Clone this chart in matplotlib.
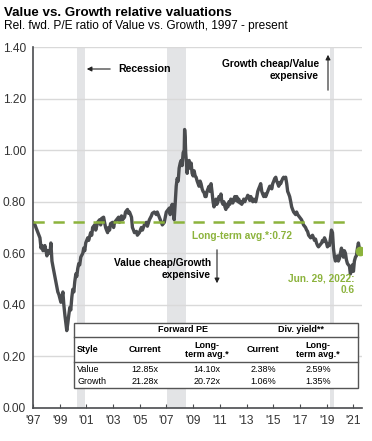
import numpy as np
import matplotlib
matplotlib.use("Agg")
import matplotlib.pyplot as plt
from matplotlib.patches import Rectangle

plt.rcParams["font.family"] = ["Liberation Sans", "DejaVu Sans"]

# relative fwd P/E (value / growth), x in chart years
years = [
    1997.00, 1997.15, 1997.22, 1997.37, 1997.52, 1997.60, 1997.67, 1997.75, 1997.89, 1997.97,
    1998.04, 1998.12, 1998.27, 1998.34, 1998.42, 1998.49, 1998.64, 1998.71, 1998.86, 1998.94,
    1999.09, 1999.16, 1999.24, 1999.31, 1999.39, 1999.46, 1999.50, 1999.53, 1999.61, 1999.68,
    1999.76, 1999.83, 1999.91, 1999.98, 2000.06, 2000.13, 2000.21, 2000.28, 2000.35, 2000.43,
    2000.50, 2000.58, 2000.73, 2000.80, 2000.88, 2000.95, 2001.10, 2001.17, 2001.32, 2001.40,
    2001.47, 2001.62, 2001.70, 2001.84, 2001.99, 2002.07, 2002.14, 2002.29, 2002.36, 2002.44,
    2002.51, 2002.59, 2002.66, 2002.74, 2002.81, 2002.96, 2003.04, 2003.11, 2003.26, 2003.41,
    2003.48, 2003.63, 2003.71, 2003.86, 2003.93, 2004.08, 2004.15, 2004.23, 2004.38, 2004.45,
    2004.53, 2004.60, 2004.75, 2004.82, 2004.97, 2005.12, 2005.20, 2005.34, 2005.49, 2005.57,
    2005.72, 2005.87, 2005.94, 2006.09, 2006.24, 2006.31, 2006.46, 2006.61, 2006.69, 2006.84,
    2006.91, 2006.99, 2007.14, 2007.21, 2007.28, 2007.36, 2007.43, 2007.51, 2007.58, 2007.66,
    2007.73, 2007.80, 2007.88, 2007.95, 2008.03, 2008.10, 2008.17, 2008.25, 2008.33, 2008.36,
    2008.40, 2008.44, 2008.47, 2008.55, 2008.62, 2008.70, 2008.77, 2008.85, 2008.92, 2009.00,
    2009.07, 2009.15, 2009.22, 2009.30, 2009.37, 2009.44, 2009.52, 2009.59, 2009.67, 2009.74,
    2009.82, 2009.89, 2009.97, 2010.04, 2010.11, 2010.19, 2010.26, 2010.34, 2010.41, 2010.49,
    2010.56, 2010.63, 2010.71, 2010.78, 2010.86, 2010.93, 2011.01, 2011.08, 2011.15, 2011.23,
    2011.30, 2011.38, 2011.45, 2011.53, 2011.60, 2011.68, 2011.75, 2011.82, 2011.90, 2011.97,
    2012.05, 2012.12, 2012.20, 2012.27, 2012.35, 2012.42, 2012.50, 2012.57, 2012.64, 2012.72,
    2012.79, 2012.87, 2012.94, 2013.02, 2013.09, 2013.17, 2013.24, 2013.32, 2013.39, 2013.47,
    2013.54, 2013.62, 2013.69, 2013.77, 2013.84, 2013.91, 2013.99, 2014.06, 2014.14, 2014.21,
    2014.29, 2014.36, 2014.44, 2014.51, 2014.59, 2014.66, 2014.74, 2014.81, 2014.89, 2014.96,
    2015.04, 2015.11, 2015.19, 2015.26, 2015.34, 2015.41, 2015.49, 2015.56, 2015.63, 2015.71,
    2015.78, 2015.86, 2015.93, 2016.01, 2016.08, 2016.16, 2016.23, 2016.31, 2016.38, 2016.45,
    2016.53, 2016.60, 2016.68, 2016.75, 2016.83, 2016.90, 2016.98, 2017.05, 2017.12, 2017.20,
    2017.27, 2017.35, 2017.42, 2017.50, 2017.57, 2017.65, 2017.72, 2017.80, 2017.87, 2017.94,
    2018.02, 2018.09, 2018.17, 2018.24, 2018.32, 2018.39, 2018.47, 2018.54, 2018.62, 2018.69,
    2018.77, 2018.84, 2018.92, 2018.99, 2019.06, 2019.14, 2019.21, 2019.29, 2019.36, 2019.44,
    2019.51, 2019.59, 2019.66, 2019.74, 2019.81, 2019.88, 2019.96, 2020.03, 2020.11, 2020.18,
    2020.26, 2020.33, 2020.41, 2020.48, 2020.56, 2020.63, 2020.71, 2020.78, 2020.86, 2020.93,
    2021.01, 2021.08, 2021.16, 2021.23, 2021.31, 2021.38, 2021.45, 2021.53,
]
rel_pe = [
    0.72, 0.71, 0.70, 0.68, 0.66, 0.62, 0.63, 0.61, 0.63, 0.61,
    0.59, 0.61, 0.60, 0.64, 0.57, 0.55, 0.51, 0.49, 0.45, 0.44,
    0.41, 0.43, 0.45, 0.40, 0.36, 0.33, 0.31, 0.30, 0.33, 0.36,
    0.39, 0.38, 0.43, 0.46, 0.45, 0.49, 0.52, 0.51, 0.54, 0.56,
    0.555, 0.585, 0.60, 0.62, 0.61, 0.64, 0.66, 0.65, 0.68, 0.67,
    0.70, 0.71, 0.69, 0.72, 0.73, 0.71, 0.735, 0.74, 0.72, 0.70,
    0.69, 0.68, 0.70, 0.69, 0.715, 0.72, 0.70, 0.72, 0.73, 0.74,
    0.72, 0.745, 0.73, 0.74, 0.76, 0.77, 0.755, 0.76, 0.74, 0.70,
    0.69, 0.68, 0.685, 0.67, 0.68, 0.70, 0.69, 0.71, 0.72, 0.705,
    0.73, 0.745, 0.755, 0.76, 0.75, 0.76, 0.74, 0.72, 0.71, 0.72,
    0.74, 0.76, 0.77, 0.775, 0.75, 0.78, 0.79, 0.76, 0.73, 0.80,
    0.86, 0.89, 0.88, 0.93, 0.95, 0.96, 0.94, 0.99, 1.00, 1.08,
    1.05, 0.99, 0.97, 0.91, 0.95, 0.96, 0.93, 0.95, 0.91, 0.90,
    0.92, 0.90, 0.895, 0.88, 0.87, 0.86, 0.88, 0.87, 0.85, 0.84,
    0.835, 0.82, 0.82, 0.84, 0.85, 0.86, 0.84, 0.87, 0.84, 0.80,
    0.78, 0.79, 0.81, 0.79, 0.80, 0.82, 0.81, 0.83, 0.80, 0.79,
    0.80, 0.78, 0.77, 0.79, 0.78, 0.80, 0.79, 0.81, 0.805, 0.795,
    0.81, 0.82, 0.805, 0.82, 0.80, 0.81, 0.795, 0.80, 0.79, 0.80,
    0.81, 0.80, 0.81, 0.815, 0.825, 0.82, 0.805, 0.82, 0.81, 0.80,
    0.81, 0.805, 0.80, 0.82, 0.84, 0.85, 0.86, 0.87, 0.84, 0.83,
    0.82, 0.83, 0.82, 0.83, 0.84, 0.85, 0.86, 0.86, 0.85, 0.87,
    0.88, 0.89, 0.895, 0.88, 0.87, 0.86, 0.875, 0.87, 0.88, 0.89,
    0.895, 0.89, 0.895, 0.87, 0.84, 0.83, 0.82, 0.80, 0.78, 0.77,
    0.76, 0.755, 0.75, 0.76, 0.75, 0.745, 0.74, 0.735, 0.73, 0.72,
    0.71, 0.705, 0.70, 0.69, 0.685, 0.67, 0.665, 0.66, 0.665, 0.67,
    0.66, 0.65, 0.655, 0.64, 0.63, 0.625, 0.63, 0.635, 0.64, 0.65,
    0.645, 0.66, 0.65, 0.64, 0.625, 0.635, 0.63, 0.66, 0.69, 0.68,
    0.62, 0.585, 0.57, 0.58, 0.59, 0.57, 0.58, 0.60, 0.62, 0.60,
    0.585, 0.61, 0.60, 0.575, 0.56, 0.555, 0.55, 0.52, 0.535, 0.555,
    0.53, 0.57, 0.585, 0.59, 0.62, 0.64, 0.62, 0.605,
]
long_term_avg = 0.72
last_value = 0.61
recessions = [(2000.28, 2000.88), (2007.06, 2008.48), (2019.28, 2019.58)]
tick_years = list(range(1997, 2022, 2))
tick_labels = ["'%02d" % (y % 100) for y in tick_years]

table_cols = ["Style", "Current", "Long-\nterm avg.*", "Current", "Long-\nterm avg.*"]
table_rows = [
    ["Value", "12.85x", "14.10x", "2.38%", "2.59%"],
    ["Growth", "21.28x", "20.72x", "1.06%", "1.35%"],
]

W, H = 372, 441
fig = plt.figure(figsize=(W / 100, H / 100), dpi=100)

def fx(px):
    return px / W

def fy(py):
    return 1 - py / H

ax = fig.add_axes([fx(33), fy(408), fx(362) - fx(33), fy(47) - fy(408)])

green = "#8cb33c"
dark = "#4a4c4f"

for a, b in recessions:
    ax.axvspan(a, b, color="#e3e4e6", lw=0, zorder=0)
for v in np.arange(0.2, 1.41, 0.2):
    ax.axhline(v, color="#d9d9d9", lw=1.0, zorder=0.5)

ax.plot(years, rel_pe, color=dark, lw=2.4, zorder=3, solid_joinstyle="round")
ax.plot([years[0], 2020.7], [long_term_avg, long_term_avg], color=green,
        lw=1.8, ls=(0, (4.5, 3.5)), zorder=4)
ax.plot(years[-1], last_value, "o", color=green, ms=6, zorder=5)

ax.set_xlim(1997, 2021.65)
ax.set_ylim(0, 1.4)
ax.set_yticks(np.arange(0, 1.41, 0.2))
ax.set_yticklabels([f"{v:.2f}" for v in np.arange(0, 1.41, 0.2)], fontsize=8.6, color="#333333")
ax.set_xticks(tick_years)
ax.set_xticklabels(tick_labels, fontsize=8.6, color="#333333")
ax.tick_params(axis="y", length=0, pad=5)
ax.tick_params(axis="x", length=3, direction="in", color=dark, pad=5)
for s in ["top", "right"]:
    ax.spines[s].set_visible(False)
ax.spines["left"].set_color(dark)
ax.spines["bottom"].set_color(dark)
ax.spines["left"].set_linewidth(1.2)
ax.spines["bottom"].set_linewidth(1.2)

# titles
fig.text(fx(4), fy(13), "Value vs. Growth relative valuations", fontsize=9.6,
         fontweight="bold", va="center", ha="left")
fig.text(fx(4), fy(26), "Rel. fwd. P/E ratio of Value vs. Growth, 1997 - present",
         fontsize=8.6, va="center", ha="left")

# annotations
fig.text(fx(118), fy(69), "Recession", fontsize=7.6, fontweight="bold", va="center")
ax.annotate("", xy=(fx(84), fy(69)), xytext=(fx(113), fy(69)), xycoords="figure fraction",
            textcoords="figure fraction",
            arrowprops=dict(arrowstyle="-|>", color="#222222", lw=0.8, mutation_scale=7))
fig.text(fx(319), fy(70), "Growth cheap/Value\nexpensive", fontsize=7.3, fontweight="bold",
         va="center", ha="right", linespacing=1.15)
ax.annotate("", xy=(fx(328), fy(52)), xytext=(fx(328), fy(93)), xycoords="figure fraction",
            textcoords="figure fraction",
            arrowprops=dict(arrowstyle="-|>", color="#222222", lw=0.8, mutation_scale=7))
fig.text(fx(211), fy(269), "Value cheap/Growth\nexpensive", fontsize=7.3, fontweight="bold",
         va="center", ha="right", linespacing=1.15)
ax.annotate("", xy=(fx(217), fy(286)), xytext=(fx(217), fy(247)), xycoords="figure fraction",
            textcoords="figure fraction",
            arrowprops=dict(arrowstyle="-|>", color="#222222", lw=0.8, mutation_scale=7))
fig.text(fx(192), fy(236), f"Long-term avg.*:{long_term_avg}", fontsize=7.3,
         fontweight="bold", color=green, va="center", ha="left")
fig.text(fx(355), fy(284), "Jun. 29, 2022:\n0.6", fontsize=7.3, fontweight="bold",
         color=green, va="center", ha="right", linespacing=1.2)

# table
x0, x1, y0, y1 = 74, 358, 323, 388
fig.patches.append(Rectangle((fx(x0), fy(y1)), fx(x1) - fx(x0), fy(y0) - fy(y1),
                             transform=fig.transFigure, facecolor="white",
                             edgecolor="#555555", lw=1.0, zorder=10))
for ly in [337, 362]:
    fig.add_artist(plt.Line2D([fx(x0), fx(x1)], [fy(ly), fy(ly)], transform=fig.transFigure,
                              color="#555555", lw=1.0, zorder=11))
tfs = 6.5
fig.text(fx(183), fy(330), "Forward PE", fontsize=tfs, fontweight="bold", ha="center",
         va="center", zorder=12)
fig.text(fx(301), fy(330), "Div. yield**", fontsize=tfs, fontweight="bold", ha="center",
         va="center", zorder=12)
col_x = [77, 145, 207, 263, 318]
for i, c in enumerate(table_cols):
    fig.text(fx(col_x[i]), fy(350), c, fontsize=tfs, fontweight="bold",
             ha="left" if i == 0 else "center", va="center", linespacing=1.1, zorder=12)
for r, row in enumerate(table_rows):
    yy = 369 + r * 12
    for i, c in enumerate(row):
        fig.text(fx(col_x[i]), fy(yy), c, fontsize=tfs, ha="left" if i == 0 else "center",
                 va="center", zorder=12)

fig.savefig("out.png", dpi=100)
